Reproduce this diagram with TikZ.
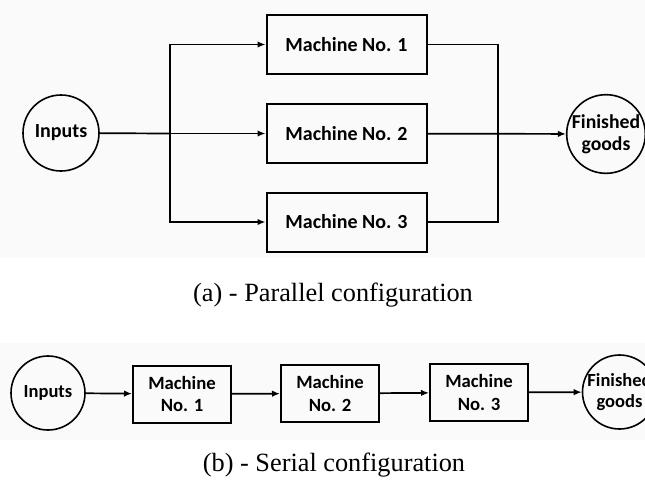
\documentclass[tikz,border=0pt]{standalone}
\usepackage{fontspec}
\setmainfont{Liberation Serif}
\newfontfamily\calfont{Carlito}
\usetikzlibrary{arrows.meta}
\begin{document}
\begin{tikzpicture}[x=1pt,y=-1pt,
  machbox/.style={draw,line width=2pt,minimum width=160pt,minimum height=59pt,inner sep=0pt,
    font=\calfont\bfseries\fontsize{20}{24}\selectfont},
  smallbox/.style={draw,line width=2pt,minimum width=98pt,minimum height=57pt,inner sep=0pt,align=center,
    font=\calfont\bfseries\fontsize{18.7}{22.5}\selectfont},
  endcirc/.style={draw,circle,line width=1.6pt,inner sep=0pt,align=center},
  conn/.style={line width=1.7pt},
  arr/.style={line width=1.7pt,-{Latex[length=8pt,width=6.5pt]}},
  captxt/.style={anchor=base,font=\fontsize{26.3}{30}\selectfont,inner sep=0pt}]
\useasboundingbox (0,0) rectangle (645,483);
\clip (0,0) rectangle (645,483);
\fill[black!2] (0,0) rectangle (645,258);
\fill[black!2] (0,343) rectangle (645,440);
% ---- parallel
\node[endcirc,minimum size=76pt,font=\calfont\bfseries\fontsize{20}{24}\selectfont] (inp) at (61,133) {Inputs};
\node[machbox] (m1) at (346.5,44.5) {Machine No. 1};
\node[machbox] (m2) at (346.5,133.5) {Machine No. 2};
\node[machbox] (m3) at (346.5,222) {Machine No. 3};
\node[endcirc,minimum size=78pt,font=\calfont\bfseries\fontsize{19.7}{22}\selectfont] (fin) at (606,134) {Finished\\goods};
\coordinate (br) at (170,133.5);
\coordinate (mg) at (498,133.5);
\draw[conn] (inp) -- (br);
\draw[arr] (br) -- (m2);
\draw[arr] (br) |- (m1);
\draw[arr] (br) |- (m3);
\draw[conn] (m1.east) -| (mg);
\draw[conn] (m3.east) -| (mg);
\draw[arr] (m2) -- (fin);
\node[captxt] (capa) at (333,301.5) {(a) - Parallel configuration};
% ---- serial
\node[endcirc,minimum size=74pt,font=\calfont\bfseries\fontsize{18.5}{22}\selectfont] (inp2) at (48,393) {Inputs};
\node[smallbox] (s1) at (182,394) {Machine\\No. 1};
\node[smallbox] (s2) at (330,393.5) {Machine\\No. 2};
\node[smallbox] (s3) at (479,392.5) {Machine\\No. 3};
\node[endcirc,minimum size=74pt,font=\calfont\bfseries\fontsize{18.5}{21}\selectfont] (fin2) at (619.5,392) {Finished\\goods};
\draw[arr] (inp2) -- (s1);
\draw[arr] (s1) -- (s2);
\draw[arr] (s2) -- (s3);
\draw[arr] (s3) -- (fin2);
\node[captxt] (capb) at (334,471) {(b) - Serial configuration};
\end{tikzpicture}
\end{document}
